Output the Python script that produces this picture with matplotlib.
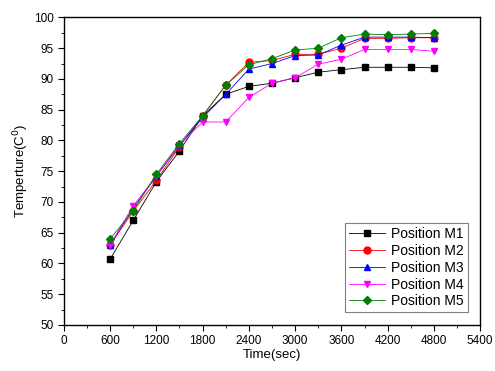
import matplotlib
matplotlib.use('Agg')
import matplotlib.pyplot as plt
from matplotlib.ticker import MultipleLocator

plt.rcParams['font.family'] = ['Liberation Sans', 'DejaVu Sans']

time_sec = [600, 900, 1200, 1500, 1800, 2100, 2400, 2700, 3000, 3300, 3600, 3900, 4200, 4500, 4800]
m1 = [60.7, 67.0, 73.3, 78.3, 84.0, 87.5, 88.8, 89.3, 90.2, 91.1, 91.5, 91.9, 91.9, 91.9, 91.8]
m2 = [63.0, 68.5, 73.5, 79.0, 84.0, 89.0, 92.7, 93.0, 94.0, 94.0, 95.0, 96.6, 96.6, 96.7, 96.7]
m3 = [63.0, 69.0, 74.2, 79.2, 83.7, 87.5, 91.6, 92.5, 93.8, 93.9, 95.5, 96.8, 96.8, 96.8, 96.7]
m4 = [63.0, 69.4, 74.2, 79.3, 83.0, 83.0, 87.0, 89.3, 90.2, 92.4, 93.2, 94.8, 94.8, 94.8, 94.5]
m5 = [64.0, 68.6, 74.5, 79.5, 84.0, 89.0, 92.3, 93.3, 94.7, 95.0, 96.7, 97.3, 97.2, 97.3, 97.4]

series = [
    (m1, 'Position M1', 'black', 's'),
    (m2, 'Position M2', 'red', 'o'),
    (m3, 'Position M3', 'blue', '^'),
    (m4, 'Position M4', 'magenta', 'v'),
    (m5, 'Position M5', '#008000', 'D'),
]

fig = plt.figure(figsize=(4.95, 3.71), dpi=100)
ax = fig.add_axes([0.129, 0.124, 0.841, 0.829])

for vals, label, color, marker in series:
    ms = 4.5 if marker == 'D' else 5
    ax.plot(time_sec, vals, color=color, marker=marker, markersize=ms,
            linewidth=0.6, label=label)

ax.set_xlim(0, 5400)
ax.set_ylim(50, 100)
ax.xaxis.set_major_locator(MultipleLocator(600))
ax.xaxis.set_minor_locator(MultipleLocator(300))
ax.yaxis.set_major_locator(MultipleLocator(5))
ax.yaxis.set_minor_locator(MultipleLocator(2.5))
ax.tick_params(which='both', direction='out', top=False, right=False, labelsize=8.5)
ax.tick_params(which='major', length=4)
ax.tick_params(which='minor', length=2)
for sp in ax.spines.values():
    sp.set_linewidth(1.0)

ax.set_xlabel('Time(sec)', fontsize=9.5, labelpad=1)
ax.set_ylabel('Temperture(C$^0$)', fontsize=9.5, labelpad=2)

leg = ax.legend(loc='lower right', fontsize=10, fancybox=False, framealpha=1,
                edgecolor='gray', handlelength=2.6, borderaxespad=0.9,
                labelspacing=0.2, handletextpad=0.4, borderpad=0.3)
leg.get_frame().set_linewidth(0.8)

fig.savefig('out.png', dpi=100)
